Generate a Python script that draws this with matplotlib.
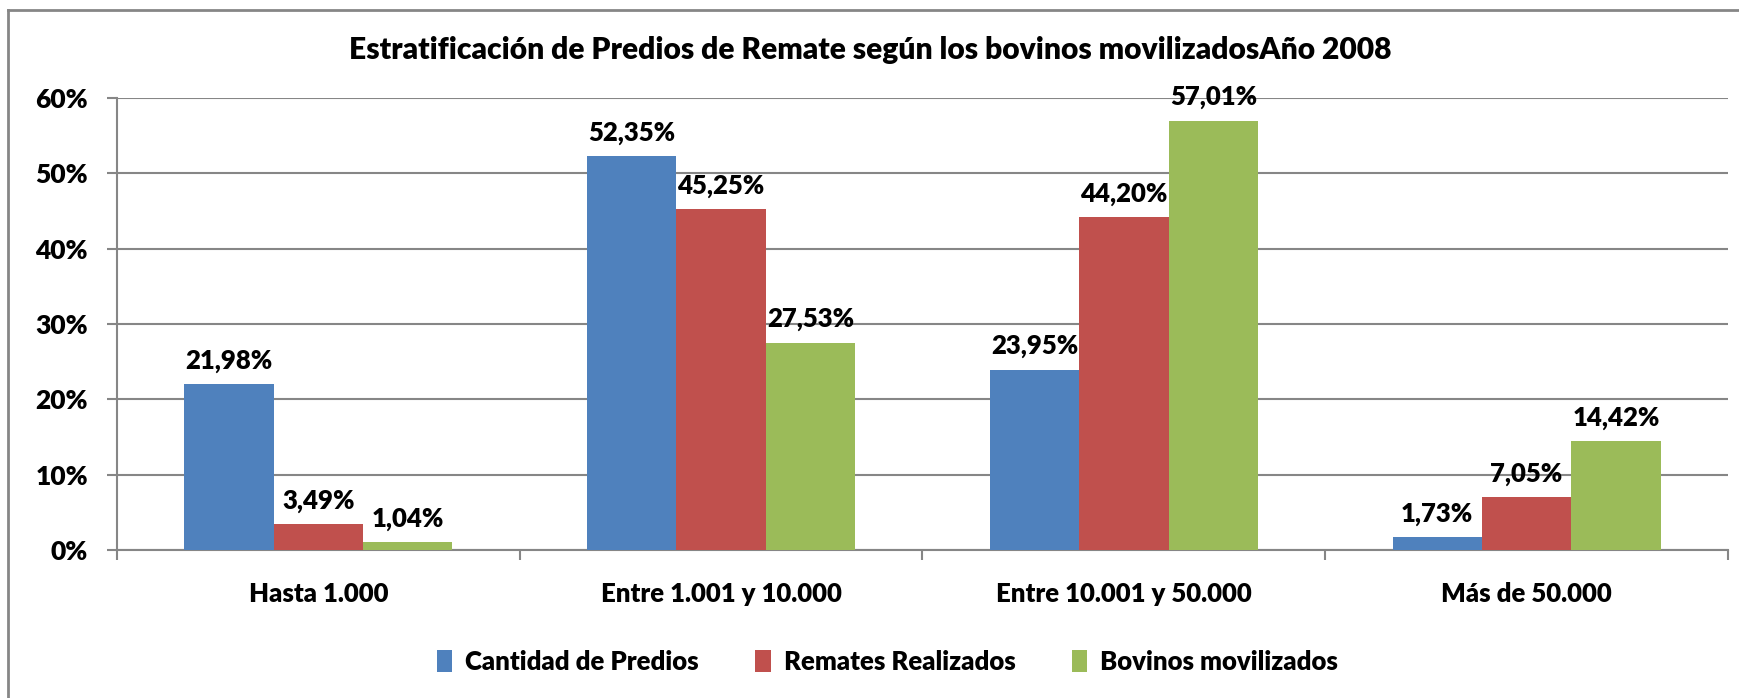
import matplotlib
matplotlib.use("Agg")
import matplotlib.pyplot as plt
from matplotlib.ticker import MultipleLocator, FuncFormatter
import numpy as np

categories = ["Hasta 1.000", "Entre 1.001 y 10.000", "Entre 10.001 y 50.000", "Más de 50.000"]
series_names = ["Cantidad de Predios", "Remates Realizados", "Bovinos movilizados"]
cantidad_predios = [21.98, 52.35, 23.95, 1.73]
remates_realizados = [3.49, 45.25, 44.20, 7.05]
bovinos_movilizados = [1.04, 27.53, 57.01, 14.42]
colors = ["#4F81BD", "#C0504D", "#9BBB59"]

plt.rcParams["font.family"] = ["Lato", "DejaVu Sans"]
W = "heavy"
plt.rcParams["font.weight"] = W

fig = plt.figure(figsize=(17.4, 6.98), dpi=100)
ax = fig.add_axes([117 / 1740, 1 - 550 / 698, (1728 - 117) / 1740, (550 - 98) / 698])

# outer chart frame (top and left edges visible)
frame_color = "#868686"
fig.add_artist(plt.Line2D([8 / 1740, 1.0], [1 - 10 / 698] * 2, color=frame_color, lw=2))
fig.add_artist(plt.Line2D([8 / 1740] * 2, [0.0, 1 - 10 / 698], color=frame_color, lw=2))

x = np.arange(len(categories))
width = 0.222
all_series = [cantidad_predios, remates_realizados, bovinos_movilizados]
for i, (vals, name, col) in enumerate(zip(all_series, series_names, colors)):
    pos = x + (i - 1) * width
    bars = ax.bar(pos, vals, width, color=col, label=name, zorder=3)
    for b, v in zip(bars, vals):
        ax.annotate(f"{v:.2f}%".replace(".", ","),
                    (b.get_x() + b.get_width() / 2, v),
                    xytext=(0, 8), textcoords="offset points",
                    ha="center", va="bottom", fontsize=18.5, fontweight=W,
                    zorder=4)

ax.set_ylim(0, 60)
ax.set_xlim(-0.5, len(categories) - 0.5)
ax.yaxis.set_major_locator(MultipleLocator(10))
ax.yaxis.set_major_formatter(FuncFormatter(lambda v, p: f"{v:.0f}%"))
ax.grid(axis="y", color=frame_color, lw=1.5, zorder=0)
ax.set_axisbelow(True)

# category labels centred between boundary ticks
ax.set_xticks(np.arange(-0.5, len(categories), 1.0))
ax.set_xticklabels([])
ax.set_xticks(x, minor=True)
ax.set_xticklabels(categories, minor=True, fontsize=18.5, fontweight=W)
ax.tick_params(axis="x", which="minor", length=0, pad=23)
ax.tick_params(axis="x", which="major", length=7, width=1.5, color=frame_color, direction="out")
ax.tick_params(axis="y", length=7, width=1.5, color=frame_color, labelsize=19, pad=14)
for lab in ax.get_yticklabels():
    lab.set_fontweight(W)

for s in ["top", "right"]:
    ax.spines[s].set_visible(False)
for s in ["left", "bottom"]:
    ax.spines[s].set_color(frame_color)
    ax.spines[s].set_linewidth(1.5)

fig.text(0.5, 1 - 50 / 698, "Estratificación de Predios de Remate según los bovinos movilizadosAño 2008",
         ha="center", va="center", fontsize=21.6, fontweight=W)

fig.legend(loc="center", bbox_to_anchor=(0.51, 1 - 662 / 698), ncol=3, frameon=False,
           handlelength=0.6, handleheight=0.9, handletextpad=0.5,
           columnspacing=2.2, prop={"weight": W, "size": 18.5})

fig.savefig("out.png", dpi=100)
